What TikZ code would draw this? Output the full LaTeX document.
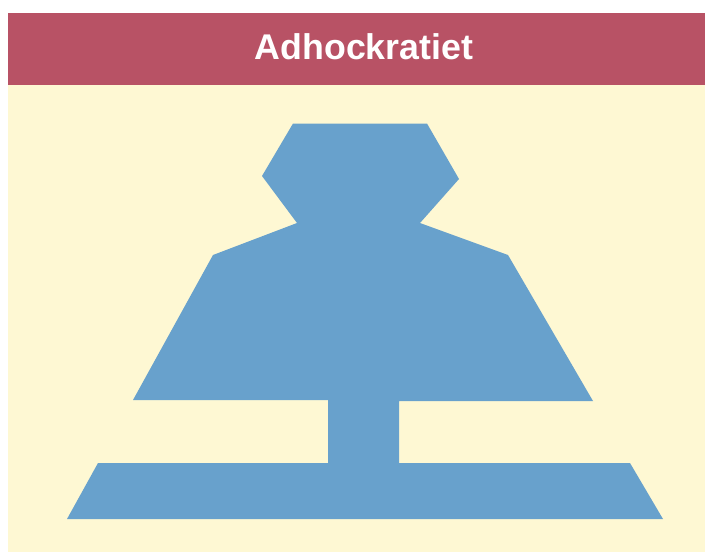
\documentclass[tikz,border=0pt]{standalone}
\usepackage{xcolor}
\usepackage{tikz}
\usepackage{fontspec}
\setmainfont{Liberation Sans}
\definecolor{bannerred}{HTML}{B85265}
\definecolor{paperbeige}{HTML}{FEF8D3}
\definecolor{shapeblue}{HTML}{68A1CC}

\begin{document}
\begin{tikzpicture}[
    % one unit is one pixel of the reference, y grows downwards
    x=0.03cm, y=-0.03cm,
    banner/.style={fill=bannerred, draw=none},
    paper/.style={fill=paperbeige, draw=none},
    organ/.style={fill=shapeblue, draw=none},
    heading/.style={
        text=white, inner sep=0pt,
        font=\bfseries\fontsize{30.5}{36}\selectfont
    }
]
  \useasboundingbox (0,0) rectangle (705,552);
  \fill[white] (0,0) rectangle (705,552);

  % Background and title bar
  \fill[paper] (8,12.5) rectangle (705,552);
  \fill[banner] (8,12.5) rectangle (705,85);
  \node[heading] (title) at (364,47) {Adhockratiet};

  % Strategic apex, middle line and operating core
  \fill[organ] (293,123.5) -- (427,123.5) -- (459,179) -- (420,223)
    -- (508,255) -- (593,401) -- (399,401) -- (399,463)
    -- (630,463) -- (663,519) -- (67,519) -- (98,463)
    -- (328,463) -- (328,400) -- (133,400) -- (213,255)
    -- (297,223) -- (262,176) -- cycle;

\end{tikzpicture}
\end{document}
